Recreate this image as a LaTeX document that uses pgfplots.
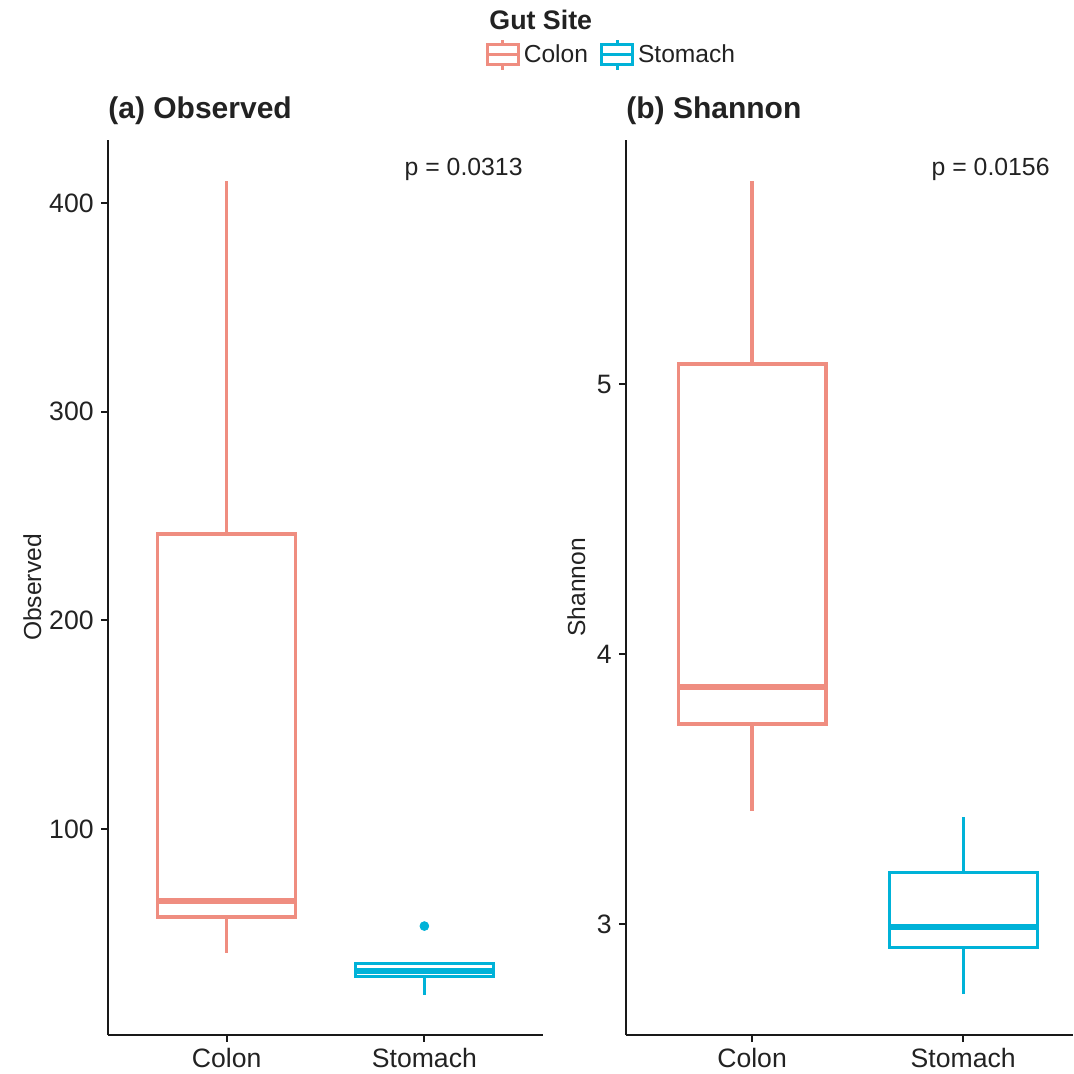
\documentclass[border=0pt]{standalone}
\usepackage{fontspec}
\setmainfont{Liberation Sans}
\usepackage{pgfplots}
\pgfplotsset{compat=1.18}
\definecolor{colonc}{RGB}{239,141,128}
\definecolor{stomc}{RGB}{0,178,216}
\definecolor{txt}{RGB}{34,34,34}
\pgfplotsset{
  gg/.style={
    scale only axis,
    anchor=south west,
    height=447.5pt,
    axis x line*=bottom,
    axis y line*=left,
    axis line style={-, line width=1.3pt, color=black!90},
    tick style={line width=1.1pt, color=black!90},
    tick align=outside,
    major tick length=3.5pt,
    xtick={1,2},
    xticklabels={Colon,Stomach},
    tick label style={font=\fontsize{13.3}{14}\selectfont, text=txt},
    /pgf/number format/assume math mode=true,
    xticklabel style={inner sep=0pt, yshift=-3pt},
    yticklabel style={inner sep=0pt, xshift=-3.5pt},
    clip=false,
  },
  bx/.style={line width=1.6pt, solid, forget plot, line join=miter},
  md/.style={line width=3.2pt, solid, forget plot},
}
\begin{document}
\begin{tikzpicture}
\useasboundingbox (0pt,0pt) rectangle (536.5pt,537pt);
% ---------- (a) Observed ----------
\begin{axis}[gg,
  at={(54pt,19.5pt)},
  width=217.5pt,
  xmin=0.4, xmax=2.6,
  ymin=1.3, ymax=430.2,
  ytick={100,200,300,400},
  ylabel={Observed},
  every axis y label/.style={at={(axis description cs:-0.154,0.5)}, rotate=90, anchor=base, font=\fontsize{12.3}{13}\selectfont, text=txt},
  legend style={at={(axis description cs:1.1597,1.095)}, anchor=center, draw=none, fill=none,
    legend columns=2, font=\fontsize{12.3}{13}\selectfont, text=txt,
    /tikz/every odd column/.append style={column sep=0pt},
    /tikz/every even column/.append style={column sep=4pt}},
  legend image code/.code={
    \draw[line width=1.5pt,#1] (0pt,-5pt) rectangle (15.5pt,5pt);
    \draw[line width=1.5pt,#1] (0pt,0pt) -- (15.5pt,0pt);
    \draw[line width=1.5pt,#1] (7.75pt,5pt) -- (7.75pt,7.5pt);
    \draw[line width=1.5pt,#1] (7.75pt,-5pt) -- (7.75pt,-7.5pt);
  },
]
% Colon: whiskers 40.6 / 410.5, quartiles 57.8 / 241.4, median 65.5
\addplot[colonc, bx] coordinates {(1,241.4) (1,410.5)};
\addplot[colonc, bx] coordinates {(1,40.6) (1,57.8)};
\addplot[colonc, bx] coordinates {(0.65,57.8) (1.35,57.8) (1.35,241.4) (0.65,241.4)} -- cycle;
\addplot[colonc, md] coordinates {(0.65,65.5) (1.35,65.5)};
% Stomach: whiskers 20.5 / 36.3, quartiles 29.2 / 35.6, median 32.1, outlier 53.5
\addplot[stomc, bx] coordinates {(2,35.6) (2,36.3)};
\addplot[stomc, bx] coordinates {(2,20.5) (2,29.2)};
\addplot[stomc, bx] coordinates {(1.65,29.2) (2.35,29.2) (2.35,35.6) (1.65,35.6)} -- cycle;
\addplot[stomc, md] coordinates {(1.65,32.1) (2.35,32.1)};
\addplot[only marks, forget plot, mark=*, mark size=2.2pt, color=stomc, mark options={fill=stomc, line width=0.4pt}] coordinates {(2,53.5)};
\addlegendimage{colonc}
\addlegendentry{Colon}
\addlegendimage{stomc}
\addlegendentry{Stomach}
\node[anchor=base west, inner sep=0pt, font=\bfseries\fontsize{15}{16}\selectfont, text=txt] at (axis description cs:0,1.0235) {(a) Observed};
\node[anchor=base east, inner sep=0pt, font=\fontsize{12.4}{13}\selectfont, text=txt] at (axis description cs:0.954,0.9598) {p = 0.0313};
\end{axis}
% ---------- (b) Shannon ----------
\begin{axis}[gg,
  at={(313pt,19.5pt)},
  width=223.5pt,
  xmin=0.403, xmax=2.52,
  ymin=2.589, ymax=5.904,
  ytick={3,4,5},
  ylabel={Shannon},
  every axis y label/.style={at={(axis description cs:-0.0917,0.5)}, rotate=90, anchor=base, font=\fontsize{12.3}{13}\selectfont, text=txt},
]
% Colon: whiskers 3.420 / 5.752, quartiles 3.741 / 5.074, median 3.879
\addplot[colonc, bx] coordinates {(1,5.074) (1,5.752)};
\addplot[colonc, bx] coordinates {(1,3.420) (1,3.741)};
\addplot[colonc, bx] coordinates {(0.65,3.741) (1.35,3.741) (1.35,5.074) (0.65,5.074)} -- cycle;
\addplot[colonc, md] coordinates {(0.65,3.879) (1.35,3.879)};
% Stomach: whiskers 2.740 / 3.397, quartiles 2.914 / 3.190, median 2.990
\addplot[stomc, bx] coordinates {(2,3.190) (2,3.397)};
\addplot[stomc, bx] coordinates {(2,2.740) (2,2.914)};
\addplot[stomc, bx] coordinates {(1.65,2.914) (2.35,2.914) (2.35,3.190) (1.65,3.190)} -- cycle;
\addplot[stomc, md] coordinates {(1.65,2.990) (2.35,2.990)};
\node[anchor=base west, inner sep=0pt, font=\bfseries\fontsize{15}{16}\selectfont, text=txt] at (axis description cs:0,1.0235) {(b) Shannon};
\node[anchor=base east, inner sep=0pt, font=\fontsize{12.4}{13}\selectfont, text=txt] at (axis description cs:0.9485,0.9598) {p = 0.0156};
\end{axis}
\node[anchor=base west, inner sep=0pt, font=\bfseries\fontsize{13.4}{14}\selectfont, text=txt] at (244.5pt,522pt) {Gut Site};
\end{tikzpicture}
\end{document}
